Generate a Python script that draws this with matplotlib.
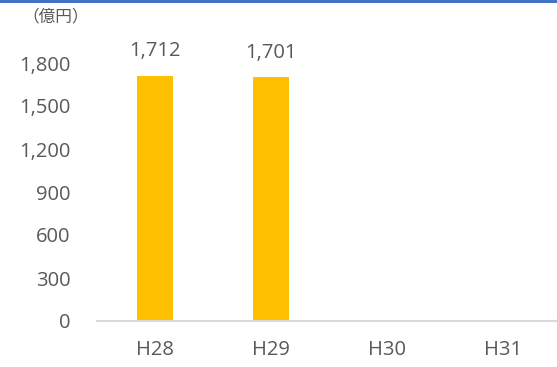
import matplotlib
matplotlib.use('Agg')
import matplotlib.pyplot as plt

plt.rcParams['font.family'] = ['Open Sans', 'Noto Sans CJK JP', 'DejaVu Sans']

years = ['H28', 'H29', 'H30', 'H31']
amounts = [1712, 1701, None, None]
yticks = [0, 300, 600, 900, 1200, 1500, 1800]

text_gray = '#595959'

fig = plt.figure(figsize=(5.57, 3.67), dpi=100)
ax = fig.add_axes([97 / 557, 46 / 367, 464 / 557, 258 / 367])

xs = [i for i, v in enumerate(amounts) if v is not None]
vals = [v for v in amounts if v is not None]
bars = ax.bar(xs, vals, width=0.315, color='#FFC000', zorder=2)

for x, v in zip(xs, vals):
    ax.annotate(f'{v:,}', (x, v), xytext=(0, 14), textcoords='offset points',
                ha='center', va='baseline', fontsize=14.5, color=text_gray)

ax.set_xlim(-0.5, 3.5)
ax.set_ylim(0, 1800)
ax.set_xticks(range(len(years)))
ax.set_xticklabels(years)
ax.set_yticks(yticks)
ax.set_yticklabels([f'{t:,}' for t in yticks])
ax.tick_params(axis='both', length=0, labelsize=14.5, colors=text_gray)
ax.tick_params(axis='y', pad=19)
ax.tick_params(axis='x', pad=14)

for side in ['top', 'right', 'left']:
    ax.spines[side].set_visible(False)
ax.spines['bottom'].set_color('#D9D9D9')
ax.spines['bottom'].set_linewidth(1.5)

fig.text(22 / 557, 1 - 17 / 367, '（億円）', ha='left', va='center',
         fontsize=12, color=text_gray)

# blue rule across the top edge
fig.add_artist(plt.Line2D([0, 1], [1 - 1 / 367, 1 - 1 / 367], color='#4472C4',
                          linewidth=2.2, transform=fig.transFigure))

fig.savefig('out.png', dpi=100)
